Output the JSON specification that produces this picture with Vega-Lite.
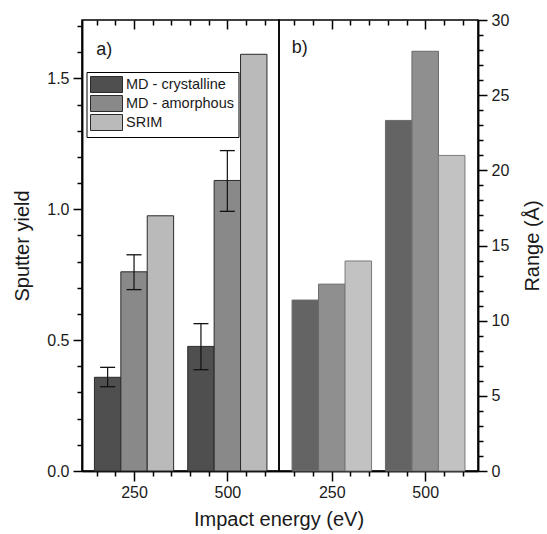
{
  "$schema": "https://vega.github.io/schema/vega-lite/v6.json",
  "background": "white",
  "padding": {"left": 12, "top": 11, "right": 3, "bottom": 0},
  "datasets": {
    "yield": [
      {"energy": 250, "series": "MD - crystalline", "value": 0.358, "lo": 0.322, "hi": 0.396},
      {"energy": 250, "series": "MD - amorphous", "value": 0.761, "lo": 0.693, "hi": 0.826},
      {"energy": 250, "series": "SRIM", "value": 0.975},
      {"energy": 500, "series": "MD - crystalline", "value": 0.476, "lo": 0.387, "hi": 0.563},
      {"energy": 500, "series": "MD - amorphous", "value": 1.11, "lo": 0.992, "hi": 1.224},
      {"energy": 500, "series": "SRIM", "value": 1.592}
    ],
    "range": [
      {"energy": 250, "series": "MD - crystalline", "value": 11.37},
      {"energy": 250, "series": "MD - amorphous", "value": 12.43},
      {"energy": 250, "series": "SRIM", "value": 13.97},
      {"energy": 500, "series": "MD - crystalline", "value": 23.32},
      {"energy": 500, "series": "MD - amorphous", "value": 27.92},
      {"energy": 500, "series": "SRIM", "value": 20.99}
    ]
  },
  "config": {
    "font": "Liberation Sans",
    "view": {"stroke": "#000", "strokeWidth": 1.5},
    "axis": {
      "domainColor": "#000", "domainWidth": 1.5, "tickColor": "#000", "tickWidth": 1.5,
      "labelFontSize": 16, "labelColor": "#1a1a1a", "labelFont": "Liberation Sans",
      "titleFont": "Liberation Sans", "titleFontSize": 20, "titleFontWeight": "normal",
      "titleColor": "#1a1a1a", "grid": false
    }
  },
  "spacing": 0,
  "bounds": "flush",
  "resolve": {"scale": {"x": "independent", "y": "independent", "color": "independent"}},
  "hconcat": [
    {
      "width": 197,
      "height": 451,
      "resolve": {"axis": {"x": "independent", "y": "independent"}},
      "layer": [
        {
          "data": {"name": "yield"},
          "transform": [{"filter": "datum.series === 'MD - crystalline'"}],
          "mark": {"type": "bar", "width": 26.4, "xOffset": -26.4, "stroke": "#2b2b2b", "strokeWidth": 1},
          "encoding": {
            "x": {"field": "energy", "type": "quantitative",
              "scale": {"domain": [124, 625], "nice": false, "zero": false},
              "axis": {"orient": "bottom", "values": [250, 500], "tickSize": 10, "labelPadding": 3,
                "title": "Impact energy (eV)", "titleX": 196.5, "titlePadding": 9}},
            "y": {"field": "value", "type": "quantitative",
              "scale": {"domain": [0, 1.723], "nice": false},
              "axis": {"orient": "left", "values": [0, 0.5, 1, 1.5], "format": ".1f", "tickSize": 9,
                "labelPadding": 4, "title": "Sputter yield", "titlePadding": 14}},
            "color": {"field": "series", "type": "nominal",
              "scale": {"domain": ["MD - crystalline", "MD - amorphous", "SRIM"], "range": ["#4f4f4f", "#898989", "#bababa"]},
              "legend": {"orient": "none", "legendX": 4.5, "legendY": 52, "title": null,
                "symbolType": "M-2,-1H2V1H-2Z", "symbolSize": 256, "symbolOffset": 7.5, "symbolStrokeColor": "#2b2b2b",
                "symbolStrokeWidth": 1, "symbolOpacity": 1, "labelFontSize": 14.5, "labelOffset": 11,
                "rowPadding": -2.5, "padding": 4, "fillColor": "white", "strokeColor": "#000",
                "labelColor": "#1a1a1a", "labelFont": "Liberation Sans"}}
          }
        },
        {
          "data": {"name": "yield"},
          "transform": [{"filter": "datum.series === 'MD - amorphous'"}],
          "mark": {"type": "bar", "width": 26.4, "xOffset": 0, "stroke": "#2b2b2b", "strokeWidth": 1},
          "encoding": {
            "x": {"field": "energy", "type": "quantitative",
              "axis": {"orient": "bottom", "values": [150, 200, 300, 350, 400, 450, 550, 600], "tickSize": 5, "labels": false, "title": null}},
            "y": {"field": "value", "type": "quantitative",
              "axis": {"orient": "left", "values": [0.1, 0.2, 0.3, 0.4, 0.6, 0.7, 0.8, 0.9, 1.1, 1.2, 1.3, 1.4, 1.6, 1.7], "tickSize": 5, "labels": false, "title": null}},
            "color": {"field": "series", "type": "nominal"}
          }
        },
        {
          "data": {"name": "yield"},
          "transform": [{"filter": "datum.series === 'SRIM'"}],
          "mark": {"type": "bar", "width": 26.4, "xOffset": 26.4, "stroke": "#2b2b2b", "strokeWidth": 1},
          "encoding": {
            "x": {"field": "energy", "type": "quantitative",
              "axis": {"orient": "top", "values": [250, 500], "tickSize": 9, "offset": -9, "domain": false, "labels": false, "title": null}},
            "y": {"field": "value", "type": "quantitative", "axis": null},
            "color": {"field": "series", "type": "nominal"}
          }
        },
        {
          "data": {"name": "yield"},
          "transform": [{"filter": "datum.series === 'MD - crystalline'"}],
          "mark": {"type": "rule", "xOffset": -26.4, "color": "#111", "strokeWidth": 1.2},
          "encoding": {
            "x": {"field": "energy", "type": "quantitative",
              "axis": {"orient": "top", "values": [150, 200, 300, 350, 400, 450, 550, 600], "tickSize": 5, "offset": -5, "domain": false, "labels": false, "title": null}},
            "y": {"field": "lo", "type": "quantitative", "axis": null},
            "y2": {"field": "hi"}
          }
        },
        {
          "data": {"name": "yield"},
          "transform": [{"filter": "datum.series === 'MD - amorphous'"}],
          "mark": {"type": "rule", "xOffset": 0, "color": "#111", "strokeWidth": 1.2},
          "encoding": {
            "x": {"field": "energy", "type": "quantitative", "axis": null},
            "y": {"field": "lo", "type": "quantitative", "axis": null},
            "y2": {"field": "hi"}
          }
        },
        {
          "data": {"name": "yield"},
          "transform": [{"filter": "datum.series === 'MD - crystalline'"}, {"fold": ["lo", "hi"], "as": ["bound", "ev"]}],
          "mark": {"type": "tick", "orient": "horizontal", "size": 15, "thickness": 1.3, "xOffset": -26.4, "color": "#111", "opacity": 1},
          "encoding": {
            "x": {"field": "energy", "type": "quantitative", "axis": null},
            "y": {"field": "ev", "type": "quantitative", "axis": null}
          }
        },
        {
          "data": {"name": "yield"},
          "transform": [{"filter": "datum.series === 'MD - amorphous'"}, {"fold": ["lo", "hi"], "as": ["bound", "ev"]}],
          "mark": {"type": "tick", "orient": "horizontal", "size": 15, "thickness": 1.3, "xOffset": 0, "color": "#111", "opacity": 1},
          "encoding": {
            "x": {"field": "energy", "type": "quantitative", "axis": null},
            "y": {"field": "ev", "type": "quantitative", "axis": null}
          }
        },
        {
          "data": {"values": [{"label": "a)"}]},
          "mark": {"type": "text", "fontSize": 18, "align": "left", "baseline": "alphabetic", "font": "Liberation Sans", "color": "#1a1a1a"},
          "encoding": {
            "text": {"field": "label"},
            "x": {"datum": 148.7, "type": "quantitative", "axis": null},
            "y": {"datum": 1.59, "type": "quantitative", "axis": null}
          }
        }
      ]
    },
    {
      "width": 199,
      "height": 451,
      "resolve": {"axis": {"x": "independent", "y": "independent"}},
      "layer": [
        {
          "data": {"name": "range"},
          "transform": [{"filter": "datum.series === 'MD - crystalline'"}],
          "mark": {"type": "bar", "width": 26.5, "xOffset": -26.5, "stroke": "#6a6a6a", "strokeWidth": 1},
          "encoding": {
            "x": {"field": "energy", "type": "quantitative",
              "scale": {"domain": [122, 628], "nice": false, "zero": false},
              "axis": {"orient": "bottom", "values": [250, 500], "tickSize": 10, "labelPadding": 3, "title": null}},
            "y": {"field": "value", "type": "quantitative",
              "scale": {"domain": [0, 30], "nice": false},
              "axis": {"orient": "right", "values": [0, 5, 10, 15, 20, 25, 30], "tickSize": 9, "labelPadding": 4,
                "title": "Range (Å)", "titleAngle": 270, "titleBaseline": "top", "titlePadding": 14}},
            "color": {"field": "series", "type": "nominal",
              "scale": {"domain": ["MD - crystalline", "MD - amorphous", "SRIM"], "range": ["#646464", "#8f8f8f", "#c2c2c2"]},
              "legend": null}
          }
        },
        {
          "data": {"name": "range"},
          "transform": [{"filter": "datum.series === 'MD - amorphous'"}],
          "mark": {"type": "bar", "width": 26.5, "xOffset": 0, "stroke": "#6a6a6a", "strokeWidth": 1},
          "encoding": {
            "x": {"field": "energy", "type": "quantitative",
              "axis": {"orient": "bottom", "values": [150, 200, 300, 350, 400, 450, 550, 600], "tickSize": 5, "labels": false, "title": null}},
            "y": {"field": "value", "type": "quantitative",
              "axis": {"orient": "right", "values": [1, 2, 3, 4, 6, 7, 8, 9, 11, 12, 13, 14, 16, 17, 18, 19, 21, 22, 23, 24, 26, 27, 28, 29], "tickSize": 5, "labels": false, "title": null}},
            "color": {"field": "series", "type": "nominal", "legend": null}
          }
        },
        {
          "data": {"name": "range"},
          "transform": [{"filter": "datum.series === 'SRIM'"}],
          "mark": {"type": "bar", "width": 26.5, "xOffset": 26.5, "stroke": "#7a7a7a", "strokeWidth": 1},
          "encoding": {
            "x": {"field": "energy", "type": "quantitative",
              "axis": {"orient": "top", "values": [250, 500], "tickSize": 9, "offset": -9, "domain": false, "labels": false, "title": null}},
            "y": {"field": "value", "type": "quantitative", "axis": null},
            "color": {"field": "series", "type": "nominal", "legend": null}
          }
        },
        {
          "data": {"values": [{"label": "b)"}]},
          "mark": {"type": "text", "fontSize": 18, "align": "left", "baseline": "alphabetic", "font": "Liberation Sans", "color": "#1a1a1a"},
          "encoding": {
            "text": {"field": "label"},
            "x": {"datum": 143, "type": "quantitative",
              "axis": {"orient": "top", "values": [150, 200, 300, 350, 400, 450, 550, 600], "tickSize": 5, "offset": -5, "domain": false, "labels": false, "title": null}},
            "y": {"datum": 27.8, "type": "quantitative", "axis": null}
          }
        }
      ]
    }
  ]
}
